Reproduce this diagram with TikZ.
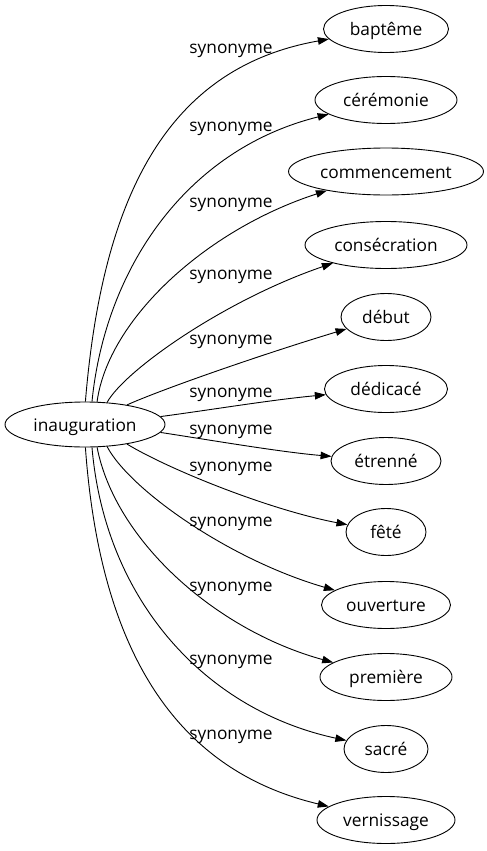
\documentclass[tikz,border=0pt]{standalone}
\usepackage{fontspec}
\setmainfont{Open Sans}
\usetikzlibrary{shapes.geometric,arrows.meta}
\begin{document}
\begin{tikzpicture}[x=1bp,y=-1bp,
  every node/.style={font=\fontsize{17.3bp}{20bp}\selectfont},
  term/.style={draw, ellipse, line width=0.9bp, inner sep=0pt, minimum height=47bp, text height=15bp, text depth=2bp},
  lbl/.style={anchor=mid, inner sep=0pt},
  edge/.style={line width=0.9bp, -{Triangle[length=11bp,width=7.5bp]}}]
\useasboundingbox (0,0) rectangle (487,851);
\node[term, minimum width=160bp, minimum height=45bp] (inaug) at (85,424.5) {inauguration};
\node[term, minimum width=125bp] (n1) at (386,29) {baptême};
\node[term, minimum width=142bp] (n2) at (386,100) {cérémonie};
\node[term, minimum width=195bp] (n3) at (386,171.5) {commencement};
\node[term, minimum width=162bp] (n4) at (386,245) {consécration};
\node[term, minimum width=90bp] (n5) at (386,317) {début};
\node[term, minimum width=123bp] (n6) at (386,389) {dédicacé};
\node[term, minimum width=110bp] (n7) at (386,461) {étrenné};
\node[term, minimum width=80bp] (n8) at (386,532) {fêté};
\node[term, minimum width=129bp] (n9) at (386,605) {ouverture};
\node[term, minimum width=132bp] (n10) at (386,677) {première};
\node[term, minimum width=84bp] (n11) at (386,749) {sacré};
\node[term, minimum width=138bp] (n12) at (386,820) {vernissage};

\draw[edge] (inaug.89) .. controls (102,200) and (165,68) .. (n1);
\draw[edge] (inaug.73) .. controls (105,270) and (185,150) .. (n2);
\draw[edge] (inaug.62) .. controls (108,320) and (205,230) .. (n3);
\draw[edge] (inaug.45) .. controls (125,370) and (225,300) .. (n4);
\draw[edge] (inaug.25) .. controls (160,390) and (260,355) .. (n5);
\draw[edge] (inaug.6) .. controls (210,410) and (270,400) .. (n6);
\draw[edge] (inaug.-6) .. controls (210,440) and (280,452) .. (n7);
\draw[edge] (inaug.-25) .. controls (170,470) and (270,510) .. (n8);
\draw[edge] (inaug.-45) .. controls (130,490) and (230,560) .. (n9);
\draw[edge] (inaug.-62) .. controls (115,540) and (215,630) .. (n10);
\draw[edge] (inaug.-73) .. controls (105,600) and (205,710) .. (n11);
\draw[edge] (inaug.-89) .. controls (100,650) and (175,770) .. (n12);

\node[lbl] (l1) at (231,51) {synonyme};
\node[lbl] (l2) at (231,129) {synonyme};
\node[lbl] (l3) at (231,205) {synonyme};
\node[lbl] (l4) at (231,277) {synonyme};
\node[lbl] (l5) at (231,342) {synonyme};
\node[lbl] (l6) at (231,395) {synonyme};
\node[lbl] (l7) at (231,432) {synonyme};
\node[lbl] (l8) at (231,469) {synonyme};
\node[lbl] (l9) at (231,524) {synonyme};
\node[lbl] (l10) at (231,589) {synonyme};
\node[lbl] (l11) at (231,662) {synonyme};
\node[lbl] (l12) at (231,737) {synonyme};
\end{tikzpicture}
\end{document}
